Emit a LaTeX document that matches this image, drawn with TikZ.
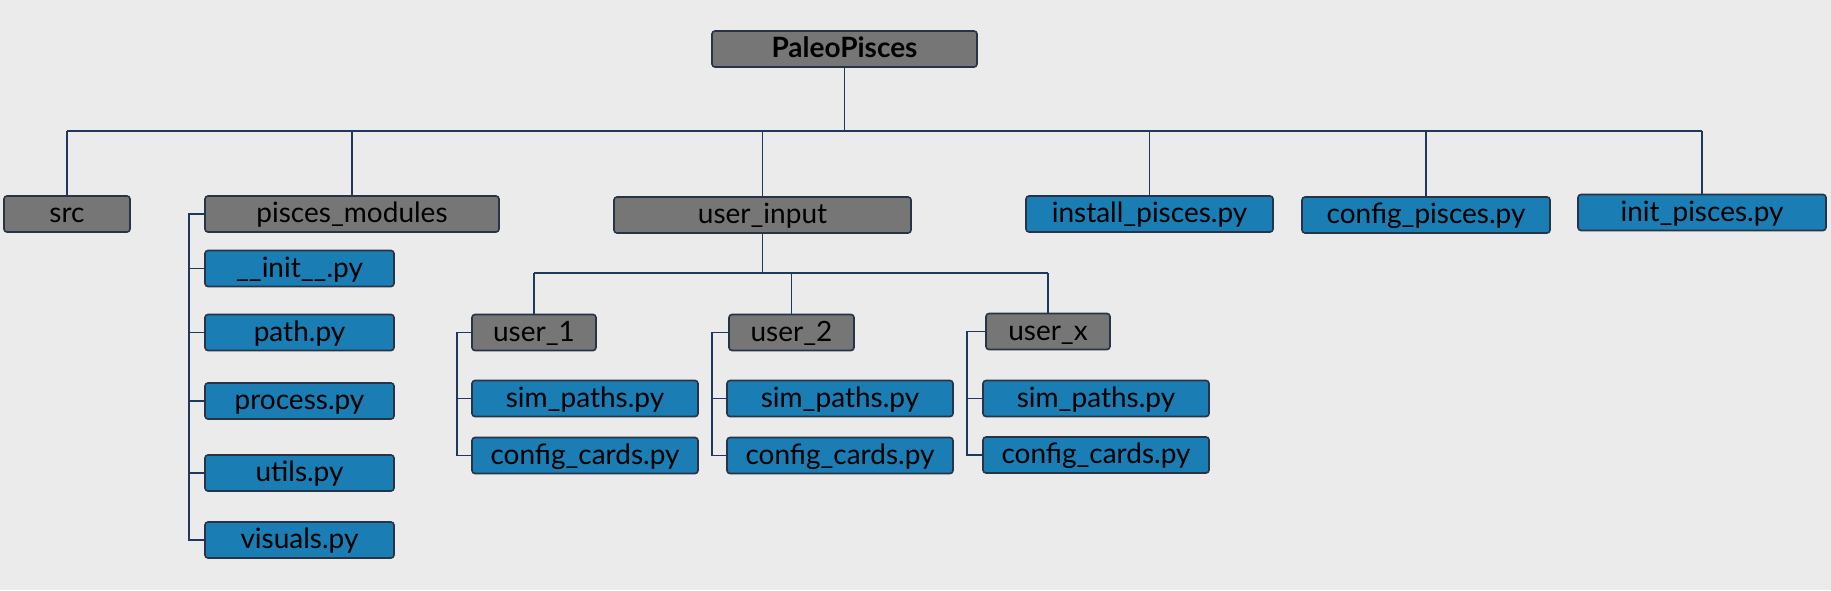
\documentclass[tikz,border=0pt]{standalone}
\usepackage{fontspec}
\setmainfont{Lato}
\definecolor{bg}{RGB}{235,235,235}
\definecolor{gfill}{RGB}{118,118,118}
\definecolor{bfill}{RGB}{26,125,180}
\definecolor{edge}{RGB}{38,52,70}
\definecolor{wire}{RGB}{31,56,94}
\begin{document}
\begin{tikzpicture}[x=1pt,y=-1pt,
  box/.style={draw=edge,line width=1.6pt,rounded corners=3pt,inner sep=0pt,minimum height=36pt,text height=20pt,text depth=3pt,font=\fontsize{28}{30}\selectfont,text=black},
  gbox/.style={box,fill=gfill},
  bbox/.style={box,fill=bfill},
  conn/.style={draw=wire,line width=1.8pt}]
\fill[bg] (0,0) rectangle (1831,590);
\useasboundingbox (0,0) rectangle (1831,590);
% top
\node[gbox,minimum width=265pt,font=\fontsize{28}{30}\selectfont\bfseries] (root) at (844.5,49) {PaleoPisces};
\node[gbox,minimum width=126pt] (src) at (67,214) {src};
\node[gbox,minimum width=294pt] (pm) at (352,214) {pisces\_modules};
\node[gbox,minimum width=297pt] (ui) at (762.5,215) {user\_input};
\node[bbox,minimum width=247pt] (inst) at (1149.5,214) {install\_pisces.py};
\node[bbox,minimum width=248pt] (cfgp) at (1426,215) {config\_pisces.py};
\node[bbox,minimum width=248pt] (initp) at (1702,212.5) {init\_pisces.py};
% pisces modules
\node[bbox,minimum width=189pt] (init) at (299.5,268.5) {\_\_init\_\_.py};
\node[bbox,minimum width=189pt] (path) at (299.5,332.5) {path.py};
\node[bbox,minimum width=189pt] (proc) at (299.5,401) {process.py};
\node[bbox,minimum width=189pt] (utils) at (299.5,473) {utils.py};
\node[bbox,minimum width=189pt] (vis) at (299.5,540) {visuals.py};
% users
\node[gbox,minimum width=124pt] (u1) at (534,332.5) {user\_1};
\node[bbox,minimum width=226pt] (s1) at (585,398.5) {sim\_paths.py};
\node[bbox,minimum width=226pt] (c1) at (585,455.5) {config\_cards.py};
\node[gbox,minimum width=125pt] (u2) at (791.5,332.5) {user\_2};
\node[bbox,minimum width=226pt] (s2) at (840,398.5) {sim\_paths.py};
\node[bbox,minimum width=226pt] (c2) at (840,455.5) {config\_cards.py};
\node[gbox,minimum width=124pt] (ux) at (1048,331.5) {user\_x};
\node[bbox,minimum width=226pt] (s3) at (1096,398.5) {sim\_paths.py};
\node[bbox,minimum width=226pt] (c3) at (1096,455) {config\_cards.py};
% buses
\coordinate (bus) at (0,131);
\coordinate (ubus) at (0,273);
\coordinate (bpm) at (189,0);
\coordinate (bu1) at (457,0);
\coordinate (bu2) at (712,0);
\coordinate (bux) at (967,0);
\draw[conn] (root.south) -- (root.south |- bus);
\draw[conn] (src.north |- bus) -- (initp.north |- bus);
\foreach \n in {src,pm,ui,inst,cfgp,initp} \draw[conn] (\n.north) -- (\n.north |- bus);
\draw[conn] (ui.south) -- (ui.south |- ubus);
\draw[conn] (u1.north |- ubus) -- (ux.north |- ubus);
\foreach \n in {u1,u2,ux} \draw[conn] (\n.north) -- (\n.north |- ubus);
% brackets
\draw[conn] (pm.west) -- (pm.west -| bpm) -- (vis.west -| bpm) -- (vis.west);
\foreach \n in {init,path,proc,utils} \draw[conn] (\n.west -| bpm) -- (\n.west);
\draw[conn] (u1.west) -- (u1.west -| bu1) -- (c1.west -| bu1) -- (c1.west);
\draw[conn] (s1.west -| bu1) -- (s1.west);
\draw[conn] (u2.west) -- (u2.west -| bu2) -- (c2.west -| bu2) -- (c2.west);
\draw[conn] (s2.west -| bu2) -- (s2.west);
\draw[conn] (ux.west) -- (ux.west -| bux) -- (c3.west -| bux) -- (c3.west);
\draw[conn] (s3.west -| bux) -- (s3.west);
\end{tikzpicture}
\end{document}
